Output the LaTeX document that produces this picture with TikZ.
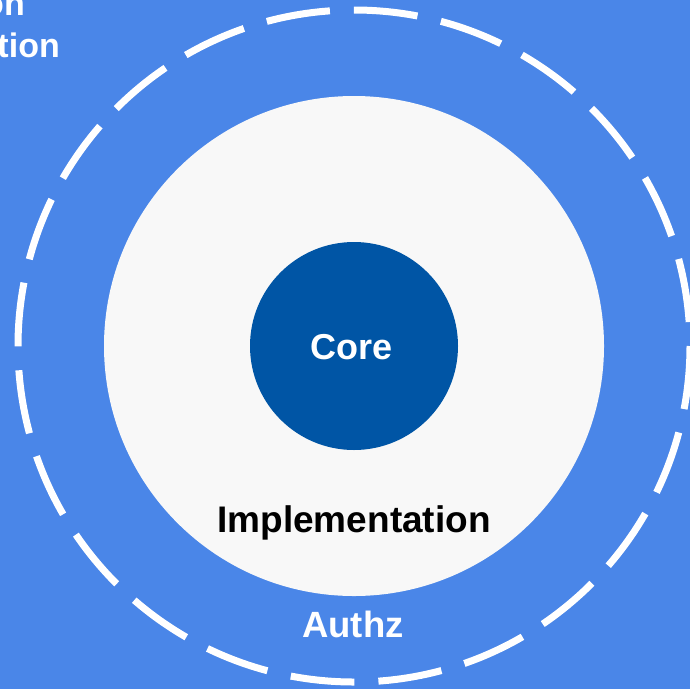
\documentclass[tikz,border=0pt]{standalone}
\usepackage{fontspec}
\setmainfont{Liberation Sans}
\definecolor{bgblue}{HTML}{4A86E8}
\definecolor{coreblue}{HTML}{0055A5}
\definecolor{innerwhite}{HTML}{F8F8F8}
\begin{document}
\begin{tikzpicture}[x=1pt,y=-1pt,
  lbl/.style={font=\fontsize{36}{40}\selectfont\bfseries, inner sep=0pt},
  ring/.style={circle, inner sep=0pt, minimum size=#1}]
\useasboundingbox (0,0) rectangle (690,689);
\clip (0,0) rectangle (690,689);
\fill[bgblue] (0,0) rectangle (690,689);
\coordinate (c) at (354,346);
\draw[white, line width=7pt, dash pattern=on 64pt off 24pt, dash phase=64pt] (c) circle[radius=336pt];
\node[ring=500pt, fill=innerwhite] (impl) at (c) {};
\node[ring=208pt, fill=coreblue] (core) at (c) {};
\node[lbl, white, anchor=base] (coret) at (352,359) {Core};
\node[lbl, black, anchor=base, font=\fontsize{37}{40}\selectfont\bfseries] (implt) at (354,532) {Implementation};
\node[lbl, white, anchor=base, font=\fontsize{36.5}{40}\selectfont\bfseries] (authz) at (353,637) {Authz};
\node[lbl, white, anchor=base east, font=\fontsize{34}{40}\selectfont\bfseries] (tl1) at (25,15) {Presentation};
\node[lbl, white, anchor=base east, font=\fontsize{34}{40}\selectfont\bfseries] (tl2) at (60,57) {Application};
\end{tikzpicture}
\end{document}
